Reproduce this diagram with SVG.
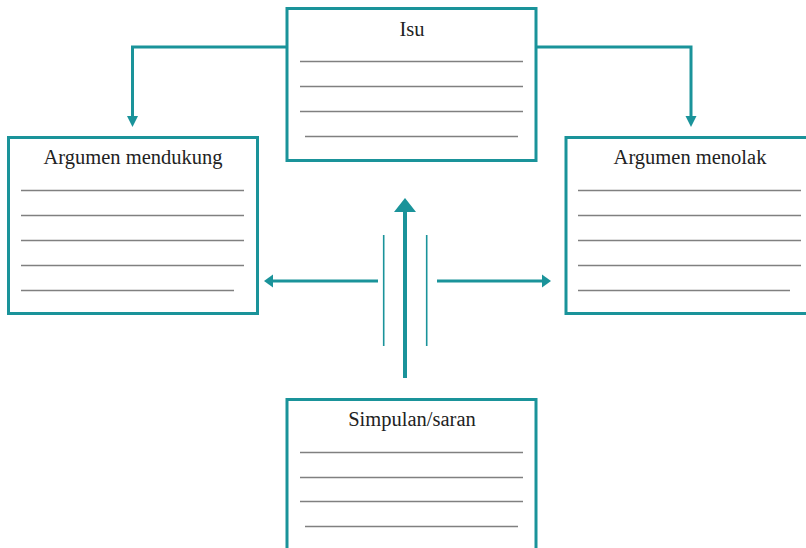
<svg xmlns="http://www.w3.org/2000/svg" width="806" height="548" viewBox="0 0 806 548">
<style>
.box{fill:#fff;stroke:#1a939a;stroke-width:3}
.ln{stroke:#808080;stroke-width:1.7}
.t{font-family:"Liberation Serif","Times New Roman",serif;font-size:20.5px;fill:#222;text-anchor:middle}
.c{fill:none;stroke:#1a939a;stroke-width:3}
.thin{stroke:#1a939a;stroke-width:1.6}
.ah{fill:#1a939a}
</style>
<rect width="806" height="548" fill="#fff"/>
<g id="connectors">
<polyline class="c" points="287,47 132.5,47 132.5,117"/>
<polygon class="ah" points="127,116 138,116 132.5,127"/>
<polyline class="c" points="537,47 691,47 691,117"/>
<polygon class="ah" points="685.5,116 696.5,116 691,127"/>
<line x1="405" y1="378" x2="405" y2="210" stroke="#1a939a" stroke-width="4"/>
<polygon class="ah" points="394,212 416,212 405,198"/>
<line x1="378" y1="281" x2="272" y2="281" stroke="#1a939a" stroke-width="3"/>
<polygon class="ah" points="264,281 273,274.5 273,287.5"/>
<line x1="437" y1="281" x2="543" y2="281" stroke="#1a939a" stroke-width="3"/>
<polygon class="ah" points="551,281 542,274.5 542,287.5"/>
<line class="thin" x1="383.7" y1="235" x2="383.7" y2="346"/>
<line class="thin" x1="426.7" y1="235" x2="426.7" y2="346"/>
</g>
<g id="isu">
<rect class="box" x="287" y="8.5" width="249" height="152"/>
<text class="t" x="412" y="36">Isu</text>
<line class="ln" x1="300" y1="61.5" x2="523" y2="61.5"/>
<line class="ln" x1="300" y1="86.5" x2="523" y2="86.5"/>
<line class="ln" x1="300" y1="111.5" x2="523" y2="111.5"/>
<line class="ln" x1="305" y1="136.5" x2="518" y2="136.5"/>
</g>
<g id="argumen-mendukung">
<rect class="box" x="8.5" y="137.5" width="249" height="176"/>
<text class="t" x="133" y="164">Argumen mendukung</text>
<line class="ln" x1="21" y1="190.5" x2="244" y2="190.5"/>
<line class="ln" x1="21" y1="215.5" x2="244" y2="215.5"/>
<line class="ln" x1="21" y1="240.5" x2="244" y2="240.5"/>
<line class="ln" x1="21" y1="265.5" x2="244" y2="265.5"/>
<line class="ln" x1="21" y1="290.5" x2="234" y2="290.5"/>
</g>
<g id="argumen-menolak">
<rect class="box" x="566" y="137.5" width="249" height="176"/>
<text class="t" x="690" y="164">Argumen menolak</text>
<line class="ln" x1="578" y1="190.5" x2="801" y2="190.5"/>
<line class="ln" x1="578" y1="215.5" x2="801" y2="215.5"/>
<line class="ln" x1="578" y1="240.5" x2="801" y2="240.5"/>
<line class="ln" x1="578" y1="265.5" x2="801" y2="265.5"/>
<line class="ln" x1="578" y1="290.5" x2="790" y2="290.5"/>
</g>
<g id="simpulan-saran">
<rect class="box" x="287" y="399.5" width="249" height="160"/>
<text class="t" x="412" y="426">Simpulan/saran</text>
<line class="ln" x1="300" y1="452.5" x2="523" y2="452.5"/>
<line class="ln" x1="300" y1="477.5" x2="523" y2="477.5"/>
<line class="ln" x1="300" y1="501.5" x2="523" y2="501.5"/>
<line class="ln" x1="305" y1="526.5" x2="518" y2="526.5"/>
</g>
</svg>
